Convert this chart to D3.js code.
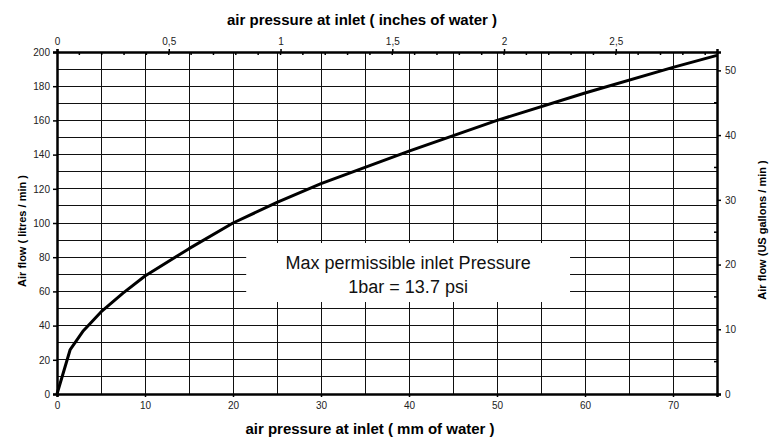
<!DOCTYPE html>
<html>
<head>
<meta charset="utf-8">
<script src="https://cdnjs.cloudflare.com/ajax/libs/d3/7.8.5/d3.min.js"></script>
<style>
body { margin: 0; background: #fff; }
svg { font-family: Arial, "Liberation Sans", sans-serif; }
.tick text { font-size: 10px; fill: #222; }
</style>
</head>
<body>
<svg id="chart" width="769" height="440"></svg>
<script>
// readings: pressure (mm of water) vs air flow (litres / min)
var pressureMm = [0, 1.5, 3, 5, 7.5, 10, 15, 20, 25, 30, 40, 50, 60, 70, 75];
var flowLitres = [0, 26, 37, 48, 59, 69, 85, 100, 112, 123, 142, 160, 176, 191, 198];

var mmTicks = [0, 10, 20, 30, 40, 50, 60, 70];
var litreTicks = [0, 20, 40, 60, 80, 100, 120, 140, 160, 180, 200];
var inchTicks = [0, 0.5, 1, 1.5, 2, 2.5];
var gallonTicks = [0, 10, 20, 30, 40, 50];

var noteLines = ["Max permissible inlet Pressure", "1bar = 13.7 psi"];

// note: "top" is a reserved window prop, so plot* names
var plotL = 57, plotR = 717, plotT = 52, plotB = 394;
var maxMm = 75, maxLitres = 200;

var svg = d3.select("#chart");

var x = d3.scaleLinear().domain([0, maxMm]).range([plotL, plotR]);
var y = d3.scaleLinear().domain([0, maxLitres]).range([plotB, plotT]);
// same extent, other units
var xInch = d3.scaleLinear().domain([0, maxMm / 25.4]).range([plotL, plotR]);
var yGal = d3.scaleLinear().domain([0, maxLitres / 3.785]).range([plotB, plotT]);

var commaFmt = function(d) { return String(d).replace(".", ","); };

// grid
var grid = svg.append("g").attr("shape-rendering", "crispEdges");
grid.selectAll("line.v").data(d3.range(5, maxMm, 5)).enter().append("line")
  .attr("x1", function(d) { return x(d); }).attr("x2", function(d) { return x(d); })
  .attr("y1", plotT).attr("y2", plotB)
  .attr("stroke", "#111").attr("stroke-width", 1);
grid.selectAll("line.h").data(d3.range(10, maxLitres, 10)).enter().append("line")
  .attr("y1", function(d) { return y(d); }).attr("y2", function(d) { return y(d); })
  .attr("x1", plotL).attr("x2", plotR)
  .attr("stroke", "#111").attr("stroke-width", 1);

// note box sits over the grid
var boxX = x(21.5), boxW = x(58.3) - x(21.5);
svg.append("rect")
  .attr("x", boxX).attr("y", 243)
  .attr("width", boxW).attr("height", 59)
  .attr("fill", "#fff");
svg.selectAll("text.note").data(noteLines).enter().append("text")
  .attr("class", "note")
  .attr("x", boxX + boxW / 2)
  .attr("y", function(d, i) { return 269 + i * 24; })
  .attr("text-anchor", "middle")
  .attr("font-size", 18)
  .attr("fill", "#111")
  .text(function(d) { return d; });

// curve
var line = d3.line()
  .x(function(d, i) { return x(pressureMm[i]); })
  .y(function(d) { return y(d); });
svg.append("path")
  .datum(flowLitres)
  .attr("d", line)
  .attr("fill", "none")
  .attr("stroke", "#000")
  .attr("stroke-width", 3)
  .attr("stroke-linejoin", "round");

// axes
var axB = svg.append("g").attr("transform", "translate(0," + plotB + ")")
  .call(d3.axisBottom(x).tickValues(mmTicks).tickSize(3).tickPadding(5));
var axL = svg.append("g").attr("transform", "translate(" + plotL + ",0)")
  .call(d3.axisLeft(y).tickValues(litreTicks).tickSize(4).tickPadding(3));
var axT = svg.append("g").attr("transform", "translate(0," + plotT + ")")
  .call(d3.axisTop(xInch).tickValues(inchTicks).tickFormat(commaFmt).tickSize(3).tickPadding(4));
var axR = svg.append("g").attr("transform", "translate(" + plotR + ",0)")
  .call(d3.axisRight(yGal).tickValues(gallonTicks).tickSize(4).tickPadding(4));

[axB, axL, axT, axR].forEach(function(a) {
  a.select(".domain").attr("stroke", "#000").attr("stroke-width", 2.5);
  a.selectAll(".tick line").attr("stroke", "#000").attr("stroke-width", 1.5);
  a.selectAll(".tick text").attr("font-family", null).attr("font-size", null);
});

// minor ticks on secondary axes, pointing inwards
svg.selectAll("line.minT").data(d3.range(0.1, maxMm / 25.4, 0.1)).enter().append("line")
  .attr("x1", function(d) { return xInch(d); }).attr("x2", function(d) { return xInch(d); })
  .attr("y1", plotT).attr("y2", plotT + 3)
  .attr("stroke", "#000").attr("stroke-width", 1.5);
svg.selectAll("line.minR").data(d3.range(5, maxLitres / 3.785, 10)).enter().append("line")
  .attr("x1", plotR - 3).attr("x2", plotR)
  .attr("y1", function(d) { return yGal(d); }).attr("y2", function(d) { return yGal(d); })
  .attr("stroke", "#000").attr("stroke-width", 1.5);

// titles
svg.append("text")
  .attr("x", 362).attr("y", 25)
  .attr("text-anchor", "middle").attr("font-weight", "bold").attr("font-size", 15)
  .text("air pressure at inlet ( inches of water )");
svg.append("text")
  .attr("x", 370).attr("y", 434)
  .attr("text-anchor", "middle").attr("font-weight", "bold").attr("font-size", 15)
  .text("air pressure at inlet ( mm of water )");
svg.append("text")
  .attr("transform", "translate(26,231) rotate(-90)")
  .attr("text-anchor", "middle").attr("font-weight", "bold").attr("font-size", 11)
  .text("Air flow ( litres / min )");
svg.append("text")
  .attr("transform", "translate(766,230) rotate(-90)")
  .attr("text-anchor", "middle").attr("font-weight", "bold").attr("font-size", 11)
  .text("Air flow (US gallons / min )");
</script>
</body>
</html>
